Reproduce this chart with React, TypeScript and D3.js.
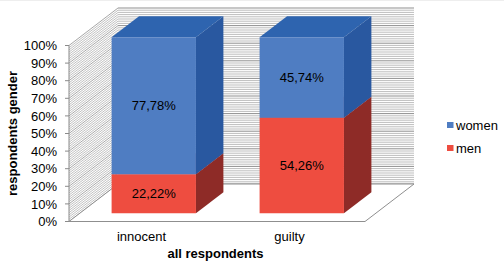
import React from "react";
import * as d3 from "d3";

const categories = ["innocent", "guilty"];
const seriesNames = ["men", "women"];
const menValues = [22.22, 54.26];
const womenValues = [77.78, 45.74];
const tickValues = [0, 10, 20, 30, 40, 50, 60, 70, 80, 90, 100];
const yAxisTitle = "respondents gender";
const xAxisTitle = "all respondents";

const W = 504;
const H = 267;
const X0 = 69;
const X1 = 365;
const DX = 49;
const DY = 37.5;
const ZF = 0.22;
const ZB = 0.78;

const colors: Record<string, { front: string; top: string; side: string }> = {
  women: { front: "#4F7DC2", top: "#2E64AF", side: "#2958A0" },
  men: { front: "#EE4D40", top: "#C63C32", side: "#8E2B27" },
};

const fmt = (v: number) => v.toFixed(2).replace(".", ",") + "%";

export default function App() {
  const y = d3.scaleLinear().domain([0, 100]).range([221.5, 45.5]);
  const x = d3
    .scaleBand<string>()
    .domain(categories)
    .range([X0, X1])
    .paddingInner(0.43)
    .paddingOuter(0.215);

  const P = (px: number, v: number, z: number): [number, number] => [
    px + DX * z,
    y(v) - DY * z,
  ];
  const poly = (pts: [number, number][]) =>
    pts.map((p) => p.map((n) => n.toFixed(2)).join(",")).join(" ");

  const minor = d3.range(0, 100.001, 1.25);

  const stacks = categories.map((c, i) => {
    const vals = [menValues[i], womenValues[i]];
    let base = 0;
    return seriesNames.map((s, j) => {
      const seg = { cat: c, series: s, v0: base, v1: base + vals[j], val: vals[j] };
      base += vals[j];
      return seg;
    });
  });

  return (
    <svg
      width={W}
      height={H}
      style={{ position: "absolute", left: 0, top: 0, background: "#fff" }}
      fontFamily="'Liberation Sans', Arial, sans-serif"
    >
      <rect x={0} y={0} width={W} height={H} fill="#fff" />
      <line x1={0} x2={W} y1={0.5} y2={0.5} stroke="#eeeeee" />
      {/* back wall */}
      <polygon
        points={poly([P(X0, 0, 1), P(X1, 0, 1), P(X1, 100, 1), P(X0, 100, 1)])}
        fill="#fff"
      />
      {minor.map((v, k) => {
        const major = Math.abs(v % 10) < 0.01;
        const a = P(X0, v, 1);
        const b = P(X1, v, 1);
        return (
          <line
            key={"bw" + k}
            x1={a[0]}
            y1={a[1]}
            x2={b[0]}
            y2={b[1]}
            stroke={major ? "#8f8f8f" : "#bdbdbd"}
            strokeWidth={1}
          />
        );
      })}
      {/* side wall */}
      {minor.map((v, k) => {
        const major = Math.abs(v % 10) < 0.01;
        const a = P(X0, v, 0);
        const b = P(X0, v, 1);
        return (
          <line
            key={"sw" + k}
            x1={a[0]}
            y1={a[1]}
            x2={b[0]}
            y2={b[1]}
            stroke={major ? "#8f8f8f" : "#b0b0b0"}
            strokeWidth={0.8}
          />
        );
      })}
      {/* floor */}
      <polygon
        points={poly([P(X0, 0, 0), P(X1, 0, 0), P(X1, 0, 1), P(X0, 0, 1)])}
        fill="#fff"
        stroke="#8f8f8f"
        strokeWidth={1}
      />
      {/* y axis */}
      <line x1={X0} y1={y(0)} x2={X0} y2={y(100)} stroke="#8a8a8a" />
      {tickValues.map((t) => (
        <g key={"t" + t}>
          <line x1={X0 - 4} x2={X0} y1={y(t)} y2={y(t)} stroke="#8a8a8a" />
          <text x={57} y={y(t)} dy="0.36em" textAnchor="end" fontSize={13} fill="#000">
            {t + "%"}
          </text>
        </g>
      ))}
      {/* bars */}
      {stacks.map((segs) =>
        segs.map((s) => {
          const bx0 = x(s.cat)!;
          const bx1 = bx0 + x.bandwidth();
          const c = colors[s.series];
          const front = [P(bx0, s.v0, ZF), P(bx1, s.v0, ZF), P(bx1, s.v1, ZF), P(bx0, s.v1, ZF)] as [number, number][];
          const side = [P(bx1, s.v0, ZF), P(bx1, s.v0, ZB), P(bx1, s.v1, ZB), P(bx1, s.v1, ZF)] as [number, number][];
          const top = [P(bx0, s.v1, ZF), P(bx1, s.v1, ZF), P(bx1, s.v1, ZB), P(bx0, s.v1, ZB)] as [number, number][];
          const cx = (front[0][0] + front[1][0]) / 2;
          const cy = (front[0][1] + front[2][1]) / 2;
          return (
            <g key={s.cat + s.series}>
              <polygon points={poly(side)} fill={c.side} />
              <polygon points={poly(top)} fill={c.top} />
              <polygon points={poly(front)} fill={c.front} />
              <text x={cx} y={cy} dy="0.36em" textAnchor="middle" fontSize={13} fill="#000">
                {fmt(s.val)}
              </text>
            </g>
          );
        })
      )}
      {/* category labels */}
      {categories.map((c) => (
        <text
          key={"c" + c}
          x={x(c)! + x.bandwidth() / 2 - 1.5}
          y={241}
          textAnchor="middle"
          fontSize={13}
          fill="#000"
        >
          {c}
        </text>
      ))}
      <text x={215.5} y={258} textAnchor="middle" fontSize={13} fontWeight="bold" fill="#000">
        {xAxisTitle}
      </text>
      <text
        transform={`translate(16.5,133.5) rotate(-90)`}
        textAnchor="middle"
        fontSize={13}
        fontWeight="bold"
        fill="#000"
      >
        {yAxisTitle}
      </text>
      {/* legend */}
      {["women", "men"].map((s, i) => (
        <g key={"lg" + s} transform={`translate(447,${122 + i * 23})`}>
          <rect x={0} y={0} width={6.5} height={6} fill={colors[s].front} />
          <text x={9} y={3} dy="0.36em" fontSize={13} fill="#000">
            {s}
          </text>
        </g>
      ))}
    </svg>
  );
}
